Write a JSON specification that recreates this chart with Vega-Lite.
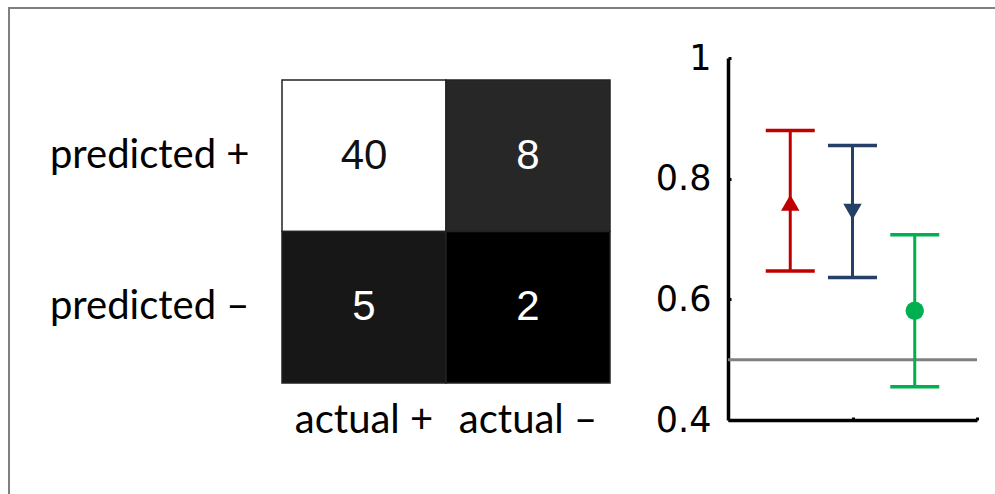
{
  "$schema": "https://vega.github.io/schema/vega-lite/v6.json",
  "width": 990,
  "height": 490,
  "autosize": {"type": "none"},
  "padding": {"left": 9, "top": 8, "right": -4, "bottom": -4},
  "background": "white",
  "config": {
    "view": {"stroke": "#7f7f7f", "strokeWidth": 2},
    "axis": {"grid": false}
  },
  "datasets": {
    "matrix": [
      {"predicted": "predicted +", "actual": "actual +", "n": 40},
      {"predicted": "predicted +", "actual": "actual –", "n": 8},
      {"predicted": "predicted –", "actual": "actual +", "n": 5},
      {"predicted": "predicted –", "actual": "actual –", "n": 2}
    ],
    "bars": [
      {"series": "A", "x": 0.5, "lo": 0.647, "hi": 0.88, "mid": 0.76},
      {"series": "B", "x": 1.0, "lo": 0.636, "hi": 0.855, "mid": 0.745},
      {"series": "C", "x": 1.5, "lo": 0.455, "hi": 0.707, "mid": 0.581}
    ],
    "chance": [{"x0": 0, "x1": 2, "y": 0.5}]
  },
  "layer": [
    {
      "data": {"name": "matrix"},
      "encoding": {
        "x": {
          "field": "actual", "type": "nominal", "sort": ["actual +", "actual –"],
          "scale": {"range": [273, 601], "paddingInner": 0, "paddingOuter": 0},
          "axis": {
            "orient": "bottom", "offset": -115, "title": null, "domain": false,
            "ticks": false, "tickSize": 0, "labelPadding": 17, "labelAngle": 0,
            "labelFont": "Lato", "labelFontSize": 40, "labelColor": "black",
            "labelBaseline": "top", "labelAlign": "center", "labelLimit": 0
          }
        },
        "y": {
          "field": "predicted", "type": "nominal", "sort": ["predicted +", "predicted –"],
          "scale": {"range": [72, 375], "paddingInner": 0, "paddingOuter": 0},
          "axis": {
            "orient": "left", "offset": -273, "title": null, "domain": false,
            "ticks": false, "tickSize": 0, "labelPadding": 33, "labelLimit": 0,
            "labelFont": "Lato", "labelFontSize": 40, "labelColor": "black",
            "labelAlign": "right", "labelBaseline": "middle"
          }
        }
      },
      "layer": [
        {
          "mark": {"type": "rect", "stroke": "#222222", "strokeWidth": 1.5},
          "encoding": {
            "fill": {
              "field": "n", "type": "quantitative",
              "scale": {"domain": [2, 40], "range": ["#000000", "#ffffff"]},
              "legend": null
            }
          }
        },
        {
          "mark": {"type": "text", "font": "Liberation Sans", "fontSize": 42, "baseline": "middle", "align": "center"},
          "encoding": {
            "text": {"field": "n", "type": "quantitative"},
            "color": {"condition": {"test": "datum.n > 20", "value": "#111111"}, "value": "#ffffff"}
          }
        }
      ]
    },
    {
      "encoding": {
        "x": {
          "type": "quantitative",
          "scale": {"domain": [0, 2], "range": [719, 968], "nice": false, "zero": false},
          "axis": {
            "orient": "bottom", "offset": -78, "title": null, "values": [1, 2],
            "labels": false, "domainColor": "black", "domainWidth": 3.5,
            "ticks": true, "tickSize": -3, "tickColor": "black", "tickWidth": 3
          }
        },
        "y": {
          "type": "quantitative",
          "scale": {"domain": [0.4, 1], "range": [412, 50], "nice": false, "zero": false},
          "axis": {
            "orient": "left", "offset": -719, "title": null, "values": [0.4, 0.6, 0.8, 1],
            "format": "~g", "labelFlush": false, "labelOverlap": false,
            "domainColor": "black", "domainWidth": 3.5,
            "ticks": true, "tickSize": -3, "tickColor": "black", "tickWidth": 3,
            "labelPadding": 20, "labelFont": "DejaVu Sans", "labelFontSize": 35,
            "labelColor": "black", "labelBaseline": "middle"
          }
        }
      },
      "layer": [
        {
          "data": {"name": "chance"},
          "mark": {"type": "rule", "color": "#808080", "strokeWidth": 3},
          "encoding": {
            "x": {"field": "x0", "type": "quantitative"},
            "x2": {"field": "x1"},
            "y": {"field": "y", "type": "quantitative"}
          }
        },
        {
          "data": {"name": "bars"},
          "mark": {"type": "rule", "strokeWidth": 3},
          "encoding": {
            "x": {"field": "x", "type": "quantitative"},
            "y": {"field": "lo", "type": "quantitative"},
            "y2": {"field": "hi"},
            "color": {"field": "series", "type": "nominal", "scale": {"domain": ["A", "B", "C"], "range": ["#c00000", "#263f66", "#00b050"]}, "legend": null}
          }
        },
        {
          "data": {"name": "bars"},
          "mark": {"type": "tick", "orient": "horizontal", "size": 49, "thickness": 3.5, "opacity": 1},
          "encoding": {
            "x": {"field": "x", "type": "quantitative"},
            "y": {"field": "lo", "type": "quantitative"},
            "color": {"field": "series", "type": "nominal", "legend": null}
          }
        },
        {
          "data": {"name": "bars"},
          "mark": {"type": "tick", "orient": "horizontal", "size": 49, "thickness": 3.5, "opacity": 1},
          "encoding": {
            "x": {"field": "x", "type": "quantitative"},
            "y": {"field": "hi", "type": "quantitative"},
            "color": {"field": "series", "type": "nominal", "legend": null}
          }
        },
        {
          "data": {"name": "bars"},
          "mark": {"type": "point", "filled": true, "opacity": 1},
          "encoding": {
            "x": {"field": "x", "type": "quantitative"},
            "y": {"field": "mid", "type": "quantitative"},
            "color": {"field": "series", "type": "nominal", "legend": null},
            "shape": {"field": "series", "type": "nominal", "scale": {"domain": ["A", "B", "C"], "range": ["triangle-up", "triangle-down", "circle"]}, "legend": null},
            "size": {"field": "series", "type": "nominal", "scale": {"domain": ["A", "B", "C"], "range": [340, 340, 220]}, "legend": null}
          }
        }
      ]
    }
  ],
  "resolve": {
    "scale": {"x": "independent", "y": "independent", "color": "independent"},
    "axis": {"x": "independent", "y": "independent"}
  }
}
